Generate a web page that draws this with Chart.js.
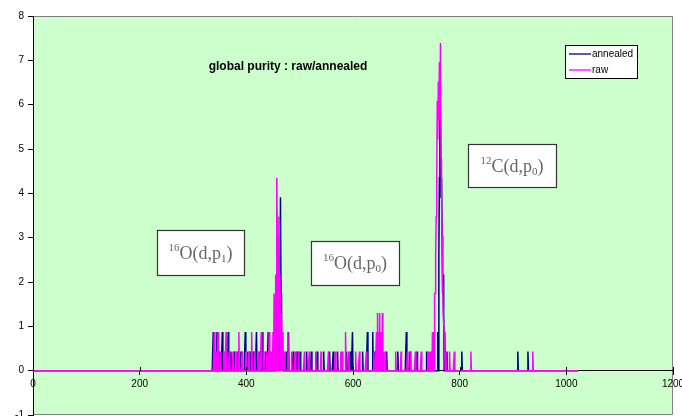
<!DOCTYPE html>
<html lang="en">
<head>
<meta charset="UTF-8">
<title>global purity : raw/annealed</title>
<script src="https://cdn.jsdelivr.net/npm/chart.js"></script>
<style>
  body { margin: 0; background: #fff; }
  .wrap { position: relative; width: 682px; height: 416px; }
</style>
</head>
<body>
<div class="wrap"><canvas id="purity"></canvas></div>
<script>
// spectra: only the non-empty channels are listed, every other channel is 0
const nChannels = 1024;

const annealedCh = [338, 341, 345, 350, 355, 360, 366, 371, 377, 383, 390, 398, 403, 407, 413, 419, 425, 430, 436, 441, 444,
  453, 455, 458, 460, 462, 464, 465, 467, 469,
  475, 479, 488, 495, 501, 513, 522, 533, 545, 556, 563, 571, 588, 595, 599, 618, 627, 637, 640, 650, 654, 663, 684, 700, 707, 720, 738, 749,
  759, 761, 762, 763, 764, 765, 766, 767, 768, 769, 770, 772, 776,
  804, 909, 928];
const annealedVal = [0.87, 0.43, 0.87, 0.43, 0.87, 0.43, 0.87, 0.43, 0.43, 0.43, 0.43, 0.87, 0.43, 0.43, 0.43, 0.87, 0.43, 0.87, 0.43, 0.87, 0.43,
  0.43, 0.87, 1.74, 1.3, 2.61, 3.91, 1.74, 0.87, 0.43,
  0.43, 0.87, 0.43, 0.43, 0.43, 0.43, 0.43, 0.43, 0.43, 0.43, 0.43, 0.43, 0.43, 0.43, 0.87, 0.43, 0.87, 0.87, 0.43, 0.87, 0.43, 0.43, 0.43, 0.87, 0.43, 0.43, 0.43, 0.43,
  0.87, 2.61, 4.35, 6.09, 5.65, 3.91, 4.35, 3.04, 1.74, 2.17, 1.3, 0.87, 0.43,
  0.43, 0.43, 0.43];

const rawCh = [340, 343, 347, 352, 358, 362, 368, 375, 381, 386, 392, 399, 405, 410, 416, 423, 428, 433, 438, 443, 446,
  448, 450, 452, 453, 455, 457, 458, 459, 461, 462, 463, 464, 466, 468, 470,
  472, 478, 485, 492, 498, 509, 518, 530, 540, 554, 567, 577, 580, 586, 592, 605, 612, 625, 639,
  644, 646, 648, 650, 653, 655, 657, 661, 680, 690, 702, 708, 717, 728, 740, 743,
  747, 749, 751, 753, 754, 755, 756, 757, 758, 759, 760, 761, 762, 763, 764, 765, 766, 767, 768, 769, 770, 771, 772, 774,
  781, 790, 821, 937];
const rawVal = [0.87, 0.43, 0.87, 0.43, 0.43, 0.87, 0.43, 0.43, 0.43, 0.87, 0.43, 0.43, 0.43, 0.87, 0.43, 0.43, 0.87, 0.43, 0.43, 0.87, 0.43,
  0.43, 0.87, 1.74, 1.74, 2.17, 4.35, 3.04, 2.61, 3.48, 1.74, 2.17, 0.87, 1.3, 0.87, 0.43,
  0.43, 0.87, 0.43, 0.43, 0.43, 0.43, 0.43, 0.43, 0.43, 0.43, 0.43, 0.43, 0.43, 0.87, 0.43, 0.43, 0.43, 0.43, 0.43,
  0.87, 1.3, 0.87, 1.3, 0.87, 1.3, 0.43, 0.43, 0.43, 0.43, 0.43, 0.43, 0.43, 0.43, 0.43, 0.43,
  0.43, 0.87, 0.87, 1.74, 1.74, 2.61, 3.48, 4.35, 6.09, 5.22, 6.52, 5.65, 6.96, 5.65, 7.39, 4.78, 3.91, 3.04, 2.17, 1.3, 1.3, 0.87, 0.43, 0.43,
  0.43, 0.43, 0.43, 0.43];

const xTicks = [0, 200, 400, 600, 800, 1000, 1200];
const yTicks = [-1, 0, 1, 2, 3, 4, 5, 6, 7, 8];

const seriesNames = ['annealed', 'raw'];
const seriesColors = ['#000080', '#FF00FF'];

const titleText = 'global purity : raw/annealed';
// reaction labels: [mass number, element, proton index]
const reactions = [['16', 'O', '1'], ['16', 'O', '0'], ['12', 'C', '0']];

function spectrum(ch, val) {
  const pts = [];
  for (let c = 0; c < nChannels; c++) pts.push({ x: c, y: 0 });
  ch.forEach((c, i) => { pts[c].y = val[i]; });
  return pts;
}

const sans = "'Liberation Sans', Arial, sans-serif";
const serif = "'Liberation Serif', 'Times New Roman', serif";

// green plot area with grey frame
const plotBg = {
  id: 'plotBg',
  beforeDraw(chart) {
    const { ctx, chartArea: a } = chart;
    ctx.save();
    ctx.fillStyle = '#CCFFCC';
    ctx.fillRect(a.left, a.top, a.right - a.left, a.bottom - a.top);
    ctx.strokeStyle = '#808080';
    ctx.lineWidth = 1;
    ctx.beginPath();
    ctx.moveTo(a.left, a.top + 0.5);
    ctx.lineTo(a.right - 0.5, a.top + 0.5);
    ctx.lineTo(a.right - 0.5, a.bottom - 0.5);
    ctx.lineTo(a.left, a.bottom - 0.5);
    ctx.stroke();
    ctx.restore();
  },
  afterDraw(chart) {
    // x tick marks cross the zero line
    const { ctx, scales: { x, y } } = chart;
    const y0 = Math.round(y.getPixelForValue(0));
    ctx.save();
    ctx.strokeStyle = '#000';
    ctx.lineWidth = 1;
    xTicks.forEach(v => {
      const px = Math.round(x.getPixelForValue(v)) + 0.5;
      ctx.beginPath();
      ctx.moveTo(px, y0 - 4);
      ctx.lineTo(px, y0);
      ctx.stroke();
    });
    ctx.restore();
  }
};

const labels = {
  id: 'labels',
  afterDraw(chart) {
    const { ctx } = chart;
    ctx.save();

    // title
    ctx.fillStyle = '#000';
    ctx.font = 'bold 12px ' + sans;
    ctx.textAlign = 'center';
    ctx.textBaseline = 'middle';
    ctx.fillText(titleText, 288, 67);

    // legend
    const lg = { x: 565, y: 45, w: 72, h: 33 };
    ctx.fillStyle = '#fff';
    ctx.fillRect(lg.x, lg.y, lg.w, lg.h);
    ctx.strokeStyle = '#000';
    ctx.lineWidth = 1;
    ctx.strokeRect(lg.x + 0.5, lg.y + 0.5, lg.w, lg.h);
    ctx.font = '10px ' + sans;
    ctx.textAlign = 'left';
    seriesNames.forEach((name, i) => {
      const ly = lg.y + 9 + i * 16;
      ctx.strokeStyle = seriesColors[i];
      ctx.lineWidth = 1.3;
      ctx.beginPath();
      ctx.moveTo(lg.x + 4, ly);
      ctx.lineTo(lg.x + 26, ly);
      ctx.stroke();
      ctx.fillStyle = '#000';
      ctx.fillText(name, lg.x + 27, ly);
    });

    // reaction boxes
    const boxes = [
      { x: 157, y: 230, w: 87, h: 45 },
      { x: 311, y: 241, w: 88, h: 44 },
      { x: 468, y: 144, w: 88, h: 43 }
    ];
    boxes.forEach((b, i) => {
      ctx.fillStyle = '#fff';
      ctx.fillRect(b.x, b.y, b.w, b.h);
      ctx.strokeStyle = '#333';
      ctx.lineWidth = 1.2;
      ctx.strokeRect(b.x + 0.5, b.y + 0.5, b.w, b.h);

      const [mass, el, idx] = reactions[i];
      const big = '18px ' + serif;
      const small = '11px ' + serif;
      const main = el + '(d,p';
      ctx.font = small;
      const wMass = ctx.measureText(mass).width;
      const wIdx = ctx.measureText(idx).width;
      ctx.font = big;
      const wMain = ctx.measureText(main).width;
      const wClose = ctx.measureText(')').width;
      const total = wMass + wMain + wIdx + wClose;
      let cx = b.x + b.w / 2 - total / 2;
      const base = b.y + b.h / 2 + 6;
      ctx.fillStyle = '#666';
      ctx.textBaseline = 'alphabetic';
      ctx.textAlign = 'left';
      ctx.font = small;
      ctx.fillText(mass, cx, base - 8);
      cx += wMass;
      ctx.font = big;
      ctx.fillText(main, cx, base);
      cx += wMain;
      ctx.font = small;
      ctx.fillText(idx, cx, base + 3);
      cx += wIdx;
      ctx.font = big;
      ctx.fillText(')', cx, base);
      ctx.textBaseline = 'middle';
    });
    ctx.restore();
  }
};

new Chart(document.getElementById('purity'), {
  type: 'line',
  data: {
    datasets: [
      {
        label: seriesNames[0],
        data: spectrum(annealedCh, annealedVal),
        borderColor: seriesColors[0],
        borderWidth: 1.5,
        pointRadius: 0,
        tension: 0,
        order: 1
      },
      {
        label: seriesNames[1],
        data: spectrum(rawCh, rawVal),
        borderColor: seriesColors[1],
        borderWidth: 1.5,
        pointRadius: 0,
        tension: 0,
        order: 0
      }
    ]
  },
  options: {
    responsive: true,
    maintainAspectRatio: false,
    animation: false,
    layout: { padding: { left: 0, top: 16, right: 9, bottom: 1 } },
    plugins: {
      legend: { display: false },
      tooltip: { enabled: false },
      title: { display: false }
    },
    scales: {
      x: {
        type: 'linear',
        min: 0,
        max: 1200,
        position: { y: 0 },
        afterBuildTicks: s => { s.ticks = xTicks.map(v => ({ value: v })); },
        afterFit: s => { s.paddingLeft = 0; s.paddingRight = 0; },
        grid: { drawOnChartArea: false, color: '#000', tickLength: 4 },
        border: { color: '#000', width: 1 },
        ticks: {
          color: '#000',
          font: { family: sans, size: 10 },
          padding: 4,
          maxRotation: 0,
          autoSkip: false,
          callback: v => String(v)
        }
      },
      y: {
        min: -1,
        max: 8,
        afterBuildTicks: s => { s.ticks = yTicks.map(v => ({ value: v })); },
        afterFit: s => { s.width = 33; s.paddingTop = 0; s.paddingBottom = 0; },
        grid: { drawOnChartArea: false, color: '#000', tickLength: 5 },
        border: { color: '#000', width: 1 },
        ticks: {
          color: '#000',
          font: { family: sans, size: 10 },
          padding: 4,
          callback: v => String(v)
        }
      }
    }
  },
  plugins: [plotBg, labels]
});
</script>
</body>
</html>
